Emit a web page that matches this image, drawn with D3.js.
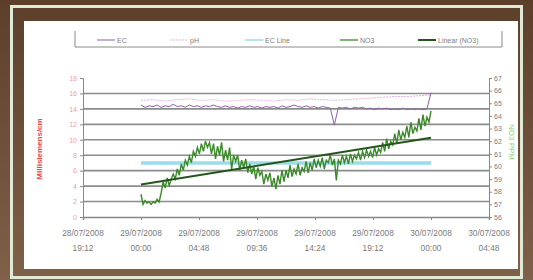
<!DOCTYPE html>
<html>
<head>
<meta charset="utf-8">
<script src="https://cdn.jsdelivr.net/npm/d3@7"></script>
<style>
  body { margin: 0; background: #5e412d; }
  svg { display: block; }
</style>
</head>
<body>
<div id="chart"></div>
<script>
const width = 533;
const height = 280;

// hours after 29/07/2008 00:00
const tickHours = [-4.8, 0, 4.8, 9.6, 14.4, 19.2, 24, 28.8];
const tickDates = ["28/07/2008", "29/07/2008", "29/07/2008", "29/07/2008", "29/07/2008", "29/07/2008", "30/07/2008", "30/07/2008"];
const tickTimes = ["19:12", "00:00", "04:48", "09:36", "14:24", "19:12", "00:00", "04:48"];

const leftTicks = [0, 2, 4, 6, 8, 10, 12, 14, 16, 18];
const rightTicks = [56, 57, 58, 59, 60, 61, 62, 63, 64, 65, 66, 67];

const legendNames = ["EC", "pH", "EC Line", "NO3", "Linear (NO3)"];

// NO3 ppm, one reading every 10 minutes from 00:00
const no3Step = 10 / 60;
const no3 = [
	57.8, 57.0, 57.3, 57.1, 57.2, 57.0,
	57.2, 57.1, 57.4, 57.2, 57.9, 58.8,
	58.3, 59.1, 58.5, 59.0, 59.4, 59.0,
	59.8, 59.3, 60.2, 59.7, 60.5, 60.1,
	60.8, 60.3, 61.2, 60.8, 61.5, 61.0,
	61.8, 61.2, 62.0, 61.5, 61.9, 61.0,
	61.8, 60.6, 61.6, 60.9, 61.9, 60.4,
	61.3, 60.5, 61.5, 59.8, 60.9, 60.4,
	60.9, 59.7, 60.5, 59.9, 60.6, 59.5,
	60.2, 59.4, 60.0, 59.0, 59.9, 59.3,
	59.6, 58.6, 59.4, 58.9, 59.5, 58.4,
	59.1, 58.2, 59.3, 58.6, 59.7, 58.8,
	59.7, 59.1, 60.1, 59.2, 59.8, 59.4,
	60.2, 59.3, 59.9, 59.6, 60.4, 59.5,
	60.3, 59.7, 60.6, 59.9, 60.5, 60.0,
	60.7, 59.8, 60.5, 60.3, 60.9, 60.1,
	60.6, 58.9, 60.5, 60.2, 60.9, 60.3,
	60.8, 60.2, 61.0, 60.4, 60.9, 60.6,
	61.1, 60.5, 61.2, 60.7, 61.3, 60.8,
	61.2, 60.7, 61.5, 60.9, 61.4, 61.1,
	61.9, 61.2, 62.2, 61.4, 62.0, 61.7,
	62.6, 61.8, 62.9, 62.1, 62.7, 62.3,
	63.2, 62.3, 63.5, 62.6, 63.1, 62.8,
	63.8, 62.9, 64.1, 63.2, 63.9, 63.5,
	64.4
];

// EC mS/cm, every 20 minutes
const ecStep = 20 / 60;
const ec = [
	14.5, 14.2, 14.4, 14.3, 14.5, 14.2, 14.4, 14.3, 14.6, 14.3, 14.4, 14.2,
	14.5, 14.3, 14.4, 14.2, 14.4, 14.3, 14.5, 14.3, 14.2, 14.4, 14.2, 14.3,
	14.1, 14.3, 14.2, 14.4, 14.2, 14.3, 14.1, 14.3, 14.2, 14.3, 14.1, 14.4,
	14.2, 14.3, 14.5, 14.3, 14.2, 14.4, 14.2, 14.3, 14.1, 14.3, 14.2, 14.1,
	11.9, 14.2, 14.1, 14.2, 14.0, 14.2, 14.1, 14.2, 14.0, 14.1, 13.9, 14.1,
	14.0, 14.1, 13.9, 14.0, 13.9, 14.1, 13.9, 14.0, 13.9, 14.0, 13.9, 14.0,
	16.1
];

// pH, hourly
const phStep = 1;
const ph = [15.1, 15.2, 15.0, 15.2, 15.3, 15.1, 15.2, 15.0, 15.1, 15.2, 15.1, 15.0,
	15.2, 15.1, 15.3, 15.2, 15.1, 15.2, 15.3, 15.4, 15.5, 15.6, 15.6, 15.7, 15.8];

// EC Line
const ecLineHours = [0, 24];
const ecLine = [7.0, 7.0];

const colors = {
	ec: "#8e5fa8",
	ph: "#e3b6dc",
	ecLine: "#9adcea",
	no3: "#3a8a2a",
	trend: "#24561b"
};

const svg = d3.select("#chart").append("svg")
	.attr("width", width)
	.attr("height", height);

// photo frame
const bg = svg.append("defs").append("linearGradient")
	.attr("id", "bg").attr("x1", 0).attr("y1", 0).attr("x2", 0).attr("y2", 1);
bg.append("stop").attr("offset", "0%").attr("stop-color", "#5c3f2b");
bg.append("stop").attr("offset", "100%").attr("stop-color", "#7f6049");

svg.append("rect").attr("width", width).attr("height", height).attr("fill", "url(#bg)");
svg.append("rect")
	.attr("x", 11.5).attr("y", 6.5).attr("width", 510).attr("height", 271)
	.attr("fill", "none").attr("stroke", "#dfe9d5").attr("stroke-width", 3);
svg.append("rect")
	.attr("x", 24).attr("y", 21).attr("width", 494).attr("height", 248)
	.attr("fill", "#ffffff");

const plot = { left: 83, right: 489, top: 78, bottom: 217 };

const x = d3.scaleLinear().domain([-4.8, 28.8]).range([plot.left, plot.right]);
const yL = d3.scaleLinear().domain([0, 18]).range([plot.bottom, plot.top]);
const yR = d3.scaleLinear().domain([56, 67]).range([plot.bottom, plot.top]);

// gridlines
svg.append("g")
	.selectAll("line")
	.data(leftTicks.filter(d => d > 0 && d < 18))
	.join("line")
	.attr("x1", plot.left).attr("x2", plot.right)
	.attr("y1", d => yL(d)).attr("y2", d => yL(d))
	.attr("stroke", "#8c8c8c")
	.attr("stroke-width", 1.6);

// left axis
const axL = svg.append("g")
	.attr("transform", `translate(${plot.left},0)`)
	.call(d3.axisLeft(yL).tickValues(leftTicks).tickSize(3).tickPadding(3));
axL.select(".domain").attr("stroke", "#888");
axL.selectAll(".tick line").attr("stroke", "#888");
axL.selectAll("text")
	.attr("fill", "#f29aac")
	.style("font-family", "Liberation Sans, Arial, sans-serif")
	.style("font-size", "7px");

// right axis
const axR = svg.append("g")
	.attr("transform", `translate(${plot.right},0)`)
	.call(d3.axisRight(yR).tickValues(rightTicks).tickSize(3).tickPadding(2));
axR.select(".domain").attr("stroke", "#888");
axR.selectAll(".tick line").attr("stroke", "#888");
axR.selectAll("text")
	.attr("fill", "#7a7a7a")
	.style("font-family", "Liberation Sans, Arial, sans-serif")
	.style("font-size", "7px");

// bottom axis
const axB = svg.append("g")
	.attr("transform", `translate(0,${plot.bottom})`)
	.call(d3.axisBottom(x).tickValues(tickHours).tickSize(3).tickFormat(""));
axB.select(".domain").attr("stroke", "#888").attr("stroke-width", 1.5);
axB.selectAll(".tick line").attr("stroke", "#888");

const lab = svg.append("g")
	.style("font-family", "Liberation Sans, Arial, sans-serif")
	.style("font-size", "8.3px")
	.attr("fill", "#7a7a7a")
	.attr("text-anchor", "middle");
lab.selectAll(".d")
	.data(tickHours)
	.join("text")
	.attr("class", "d")
	.attr("x", d => x(d)).attr("y", 236)
	.text((d, i) => tickDates[i]);
lab.selectAll(".t")
	.data(tickHours)
	.join("text")
	.attr("class", "t")
	.attr("x", d => x(d)).attr("y", 251)
	.text((d, i) => tickTimes[i]);

// axis titles
svg.append("text")
	.attr("transform", "translate(42,149) rotate(-90)")
	.attr("text-anchor", "middle")
	.style("font-family", "Liberation Sans, Arial, sans-serif")
	.style("font-size", "8px")
	.style("font-weight", "bold")
	.attr("fill", "#e8474a")
	.text("Millisiemens/cm");

svg.append("text")
	.attr("transform", "translate(509,142) rotate(90)")
	.attr("text-anchor", "middle")
	.style("font-family", "Liberation Sans, Arial, sans-serif")
	.style("font-size", "8px")
	.attr("fill", "#8fcf78")
	.text("NO3 PPM");

// series
const lineL = d3.line().x(d => x(d[0])).y(d => yL(d[1]));
const lineR = d3.line().x(d => x(d[0])).y(d => yR(d[1]));

svg.append("path")
	.datum(ecLine.map((v, i) => [ecLineHours[i], v]))
	.attr("d", lineL)
	.attr("fill", "none")
	.attr("stroke", colors.ecLine)
	.attr("stroke-width", 3.5);

svg.append("path")
	.datum(ph.map((v, i) => [i * phStep, v]))
	.attr("d", lineL)
	.attr("fill", "none")
	.attr("stroke", colors.ph)
	.attr("stroke-width", 1)
	.attr("stroke-dasharray", "2,1");

svg.append("path")
	.datum(ec.map((v, i) => [i * ecStep, v]))
	.attr("d", lineL)
	.attr("fill", "none")
	.attr("stroke", colors.ec)
	.attr("stroke-width", 1);

const no3Pts = no3.map((v, i) => [i * no3Step, v]);
svg.append("path")
	.datum(no3Pts)
	.attr("d", lineR)
	.attr("fill", "none")
	.attr("stroke", colors.no3)
	.attr("stroke-width", 1.4);

// Linear (NO3) least squares
const mx = d3.mean(no3Pts, d => d[0]);
const my = d3.mean(no3Pts, d => d[1]);
const slope = d3.sum(no3Pts, d => (d[0] - mx) * (d[1] - my)) / d3.sum(no3Pts, d => (d[0] - mx) ** 2);
const t0 = no3Pts[0][0];
const t1 = no3Pts[no3Pts.length - 1][0];
svg.append("path")
	.datum([[t0, my + slope * (t0 - mx)], [t1, my + slope * (t1 - mx)]])
	.attr("d", lineR)
	.attr("fill", "none")
	.attr("stroke", colors.trend)
	.attr("stroke-width", 2);

// legend
const lg = svg.append("g");
lg.append("path")
	.attr("d", "M75,31V47H502V31")
	.attr("fill", "none")
	.attr("stroke", "#8a8a8a")
	.attr("stroke-width", 1);

const legX = [97, 170, 245, 340, 418];
const legStroke = [colors.ec, colors.ph, colors.ecLine, colors.no3, colors.trend];
const legWidth = [1, 1, 1.5, 1.3, 2];
const item = lg.selectAll(".item")
	.data(legendNames)
	.join("g")
	.attr("class", "item")
	.attr("transform", (d, i) => `translate(${legX[i]},40)`);
item.append("line")
	.attr("x1", 0).attr("x2", 18).attr("y1", 0).attr("y2", 0)
	.attr("stroke", (d, i) => legStroke[i])
	.attr("stroke-width", (d, i) => legWidth[i])
	.attr("stroke-dasharray", (d, i) => i === 1 ? "2,1" : null);
item.append("text")
	.attr("x", 20).attr("y", 2.5)
	.style("font-family", "Liberation Sans, Arial, sans-serif")
	.style("font-size", "7px")
	.attr("fill", "#808080")
	.text(d => d);
</script>
</body>
</html>
